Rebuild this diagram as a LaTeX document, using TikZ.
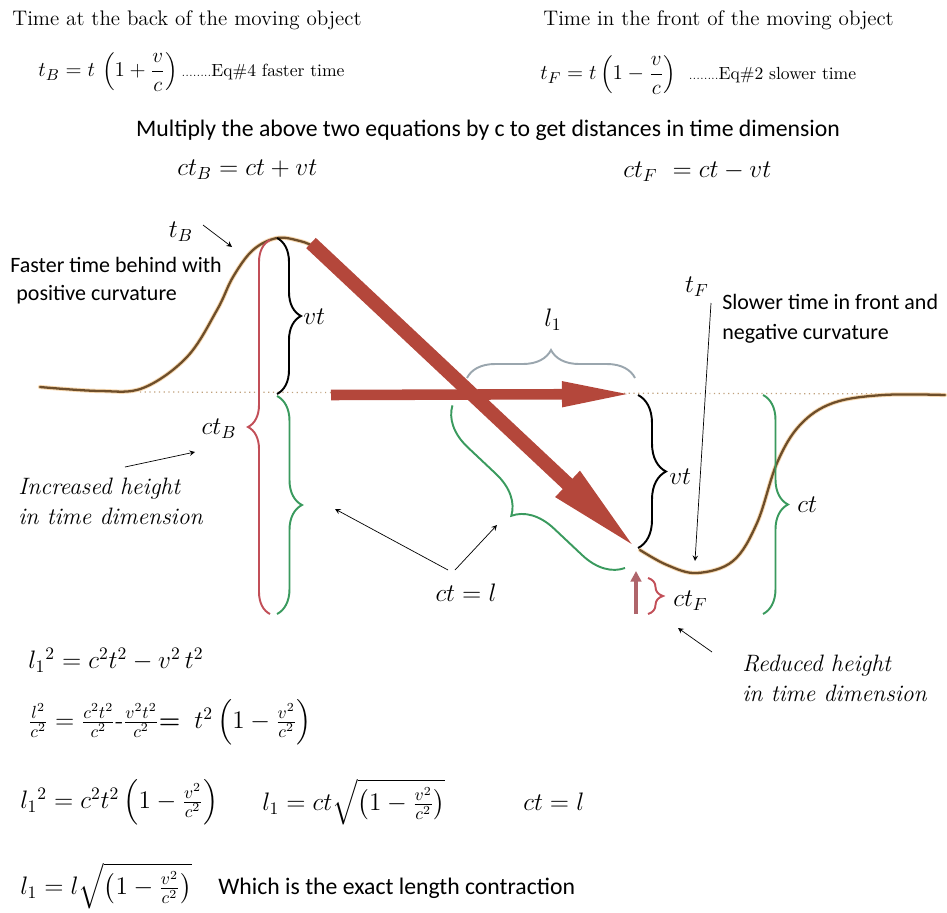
\documentclass[tikz,border=0pt]{standalone}
\usepackage{amsmath}
\usepackage{fontspec}
\newfontfamily\calibri{Carlito}
\usetikzlibrary{arrows.meta,decorations.pathreplacing,positioning}

\definecolor{flecha}{HTML}{B4473B}
\definecolor{curva}{HTML}{6E4E2A}
\definecolor{brillo}{HTML}{F7D9B2}
\definecolor{verde}{HTML}{3A9A5E}
\definecolor{rojo}{HTML}{C24F58}
\definecolor{gris}{HTML}{9AA6AE}

\begin{document}
\begin{tikzpicture}[x=0.02cm, y=-0.02cm, >=stealth,
    llave/.style={decorate, decoration={brace, amplitude=#1}, line width=1.1pt},
    rotulo/.style={font=\calibri\fontsize{12.5}{17}\selectfont, align=left, inner sep=0pt},
    titulo/.style={font=\fontsize{12}{14}\selectfont, inner sep=0pt},
    cursiva/.style={font=\itshape\fontsize{13.5}{17}\selectfont, align=left, inner sep=0pt},
    ecuacion/.style={font=\fontsize{14}{17}\selectfont, inner sep=0pt},
    etiqueta/.style={font=\fontsize{14}{17}\selectfont, inner sep=0pt}]
    \useasboundingbox (0,0) rectangle (947,913);

    % Textos de arriba
    \node[titulo, anchor=west] (tituloB) at (12,20) {Time at the back of the moving object};
    \node[titulo, anchor=west] (tituloF) at (543,20) {Time in the front of the moving object};
    \node[titulo, anchor=west] (ecB) at (38,72) {\fontsize{13}{15}\selectfont$t_B = t\,\left(1+\dfrac{v}{c}\right)$\,{\fontsize{6}{6}\selectfont ........}{\fontsize{10}{12}\selectfont Eq\#4 faster time}};
    \node[titulo, anchor=west] (ecF) at (540,75) {\fontsize{13}{15}\selectfont$t_F = t\left(1-\dfrac{v}{c}\right)$\;\;{\fontsize{6}{6}\selectfont ........}{\fontsize{10}{12}\selectfont Eq\#2 slower time}};
    \node[rotulo, font=\calibri\fontsize{13.5}{16}\selectfont] (multiplica) at (488,130)
        {Multiply the above two equations by c to get distances in time dimension};
    \node[etiqueta, anchor=west] (ctB) at (177,170) {$ct_B = ct + vt$};
    \node[etiqueta, anchor=west] (ctF) at (623,172) {$ct_F\ = ct - vt$};

    % Coordenadas de las flechas gruesas
    \coordinate (Dini) at (311,243);   % inicio diagonal
    \coordinate (Dfin) at (638,550);   % punta diagonal
    \coordinate (Hini) at (331,395);   % inicio horizontal
    \coordinate (Hfin) at (634,394);   % punta horizontal

    % Linea punteada (nivel cero)
    \coordinate (N0) at (140,392);
    \coordinate (N1) at (945,394);
    \draw[dotted, draw=brillo!60!curva, line width=0.7pt] (N0) -- (N1);

    % Curva del tiempo
    \draw[brillo, line width=2.4pt, line cap=round] plot[smooth, tension=0.6] coordinates {(40,387) (100,391) (143,388) (187,357) (217,310) (233,277) (253,250) (277,238) (300,241) (313,246)};
    \draw[curva, line width=1.3pt, line cap=round] plot[smooth, tension=0.6] coordinates {(40,387) (100,391) (143,388) (187,357) (217,310) (233,277) (253,250) (277,238) (300,241) (313,246)};
    \draw[brillo, line width=2.4pt, line cap=round] plot[smooth, tension=0.6] coordinates {(640,550) (667,565) (697,573) (733,561) (757,523) (777,463) (800,425) (833,403) (883,395) (945,395)};
    \draw[curva, line width=1.3pt, line cap=round] plot[smooth, tension=0.6] coordinates {(640,550) (667,565) (697,573) (733,561) (757,523) (777,463) (800,425) (833,403) (883,395) (945,395)};

    % Llaves
    \coordinate (A1) at (277,238);  \coordinate (A2) at (277,394);
    \coordinate (B1) at (270,614);  \coordinate (B2) at (270,240);
    \coordinate (C1) at (277,396);  \coordinate (C2) at (277,614);
    \coordinate (E1) at (625,568);  \coordinate (E2) at (452,405);
    \coordinate (L1) at (467,378);  \coordinate (L2) at (635,378);
    \coordinate (V1) at (638,395);  \coordinate (V2) at (638,548);
    \coordinate (G1) at (763,395);  \coordinate (G2) at (763,614);
    \coordinate (F1) at (648,578);  \coordinate (F2) at (648,614);

    \draw[llave=0.48cm] (A1) -- (A2);                 % vt izquierda
    \draw[llave=0.44cm, rojo] (B1) -- (B2);           % ct_B
    \draw[llave=0.5cm, verde] (C1) -- (C2);           % ct izquierda
    \draw[llave=0.8cm, verde] (E1) -- (E2);           % ct = l diagonal
    \draw[llave=0.56cm, gris] (L1) -- (L2);           % l_1
    \draw[llave=0.56cm] (V1) -- (V2);                 % vt derecha
    \draw[llave=0.5cm, verde] (G1) -- (G2);           % ct derecha
    \draw[llave=0.3cm, rojo] (F1) -- (F2);            % ct_F

    % Flechas gruesas
    \draw[flecha, line width=6pt, -{Triangle[length=41pt, width=13pt]}] (Hini) -- (Hfin);
    \draw[flecha, line width=8pt, -{Triangle[length=55pt, width=18pt]}] (Dini) -- (Dfin);

    % Flecha roja pequena
    \coordinate (R1) at (636,614);
    \coordinate (R2) at (636,571);
    \draw[rojo!80!black!80, line width=1.8pt, -{Triangle[length=6pt, width=6pt]}] (R1) -- (R2);

    % Etiquetas de la grafica
    \node[etiqueta] (tB) at (181,232) {$t_B$};
    \node[rotulo, anchor=north west] (faster) at (10,257) {Faster time behind with\\[-1pt]\;positive curvature};
    \node[etiqueta, anchor=west] (vt1) at (303,317) {$vt$};
    \node[etiqueta] (ctBl) at (219,429) {$ct_B$};
    \node[etiqueta] (l1) at (553,320) {$l_1$};
    \node[etiqueta] (tF) at (697,287) {$t_F$};
    \node[rotulo, anchor=north west] (slower) at (722,294) {Slower time in front and\\negative curvature};
    \node[etiqueta, anchor=west] (vt2) at (669,477) {$vt$};
    \node[etiqueta, anchor=west] (ct) at (797,505) {$ct$};
    \node[etiqueta, anchor=west] (ctFl) at (673,601) {$ct_F$};
    \node[etiqueta] (ctl) at (466,593) {$ct = l$};
    \node[cursiva, anchor=north west] (aumenta) at (18,478) {Increased height\\in time dimension};
    \node[cursiva, anchor=north west] (reduce) at (742,655) {Reduced height\\in time dimension};

    % Flechas finas
    \coordinate (tBa) at (203,225);   \coordinate (tBb) at (232,247);
    \coordinate (Ia) at (125,467);    \coordinate (Ib) at (195,452);
    \coordinate (Ka) at (448,570);    \coordinate (Kb) at (335,509);
    \coordinate (Ma) at (455,570);    \coordinate (Mb) at (497,525);
    \coordinate (Ra) at (712,652);    \coordinate (Rb) at (678,628);
    \coordinate (Fa) at (711,303);    \coordinate (Fb) at (695,561);
    \draw[->, thin] (tBa) -- (tBb);
    \draw[->, thin] (Ia) -- (Ib);
    \draw[->, thin] (Ka) -- (Kb);
    \draw[->, thin] (Ma) -- (Mb);
    \draw[->, thin] (Ra) -- (Rb);
    \draw[->, thin] (Fa) -- (Fb);

    % Ecuaciones de abajo
    \node[ecuacion, anchor=west] (ec1) at (28,660) {$l_1{}^2 = c^2t^2 - v^2\,t^2$};
    \node[ecuacion, anchor=west] (ec2) at (28,722) {$\frac{l^2}{c^2} = \frac{c^2t^2}{c^2}\text{-}\frac{v^2t^2}{c^2}\textbf{=}\;\; t^2\left(1-\frac{v^2}{c^2}\right)$};
    \node[ecuacion, anchor=west] (ec3) at (20,802) {$l_1{}^2 = c^2t^2\left(1-\frac{v^2}{c^2}\right)$};
    \node[ecuacion, anchor=west] (ec4) at (262,802) {$l_1 = ct\sqrt{\left(1-\frac{v^2}{c^2}\right)}$};
    \node[ecuacion, anchor=west] (ec5) at (523,802) {$ct = l$};
    \node[ecuacion, anchor=west] (ec6) at (20,886) {$l_1 = l\sqrt{\left(1-\frac{v^2}{c^2}\right)}$};
    \node[rotulo, anchor=west, font=\calibri\fontsize{13.5}{16}\selectfont] (exacta) at (218,888) {Which is the exact length contraction};

\end{tikzpicture}
\end{document}
